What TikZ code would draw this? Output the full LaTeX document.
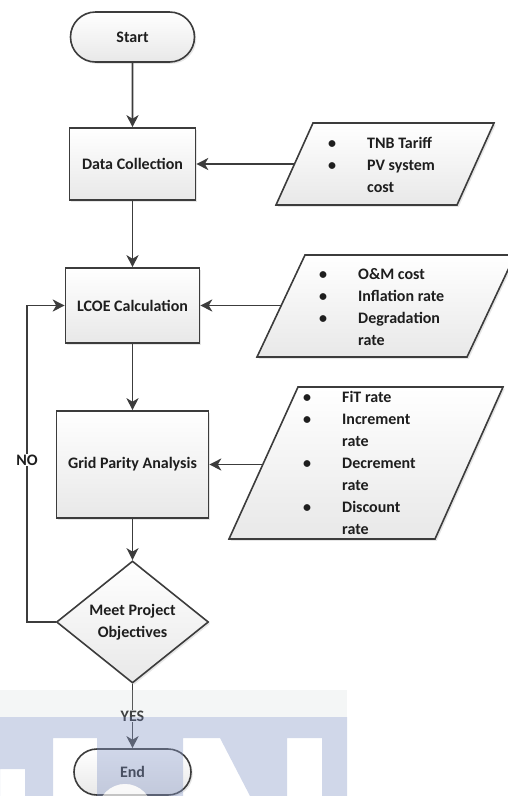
\documentclass[tikz,border=0pt]{standalone}
\usepackage{fontspec}
\setmainfont{Carlito}
\usetikzlibrary{shapes.geometric,shapes.misc,shadows,arrows.meta}
\definecolor{ln}{HTML}{3C3C3C}
\definecolor{tx}{HTML}{1E1E1E}
\definecolor{lav}{HTML}{8A9BC9}
\definecolor{band}{HTML}{C8D2D2}
\tikzset{
  shapefill/.style={top color=white, bottom color=black!9,
    drop shadow={shadow xshift=1.8pt, shadow yshift=-1.8pt, opacity=0.2}},
  txt/.style={text=tx, font=\fontsize{16}{22}\selectfont\bfseries},
  box/.style={rectangle, draw=ln, line width=1.6pt, shapefill, inner sep=0pt, align=center, txt},
  term/.style={box, rounded rectangle},
  dia/.style={box, diamond, minimum width=152pt, minimum height=122pt},
  par/.style={draw=ln, line width=1.6pt, shapefill},
  list/.style={txt, inner sep=0pt},
  arr/.style={draw=ln, line width=1.6pt, -{Stealth[length=12pt,width=12pt,inset=3.5pt]}},
  lbl/.style={txt, fill=white, inner sep=1pt}
}
\begin{document}
\begin{tikzpicture}[x=1pt,y=-1pt]
\useasboundingbox (0,0) rectangle (507,796);

% main chain
\node[term, minimum width=124pt, minimum height=50pt] (start) at (132.5,37) {Start};
\node[box, minimum width=126pt, minimum height=72pt] (dc) at (132.5,164) {Data Collection};
\node[box, minimum width=134pt, minimum height=75pt] (lcoe) at (132.5,305.5) {LCOE Calculation};
\node[box, minimum width=152pt, minimum height=107pt] (gpa) at (132.5,464.5) {Grid Parity Analysis};
\node[dia] (mpo) at (132.5,622) {Meet Project\\Objectives};
\node[term, minimum width=117pt, minimum height=46pt] (end) at (132.5,772) {End};

% input parallelograms
\path[par] (313,123) -- (494,123) -- (457,205) -- (276,205) -- cycle;
\coordinate (in1) at (294.5,164);
\node[list, anchor=base west] (t1) at (328,148.5)
  {\begin{tabular}[t]{@{}p{39pt}@{}l@{}} • & TNB Tariff\\ • & PV system\\ & cost\end{tabular}};

\path[par] (305,255) -- (515,255) -- (467,357) -- (257,357) -- cycle;
\coordinate (in2) at (281.2,305.5);
\node[list, anchor=base west] (t2) at (319,279.5)
  {\begin{tabular}[t]{@{}p{39pt}@{}l@{}} • & O\&M cost\\ • & Inflation rate\\ • & Degradation\\ & rate\end{tabular}};

\path[par] (298,387) -- (503,387) -- (435,539) -- (229,539) -- cycle;
\coordinate (in3) at (262.6,464.5);
\node[list, anchor=base west] (t3) at (303,402.5)
  {\begin{tabular}[t]{@{}p{39pt}@{}l@{}} • & FiT rate\\ • & Increment\\ & rate\\ • & Decrement\\ & rate\\ • & Discount\\ & rate\end{tabular}};

% connectors
\draw[arr] (start) -- (dc);
\draw[arr] (dc) -- (lcoe);
\draw[arr] (lcoe) -- (gpa);
\draw[arr] (gpa) -- (mpo);
\draw[arr] (in1) -- (dc.east);
\draw[arr] (in2) -- (lcoe.east);
\draw[arr] (in3) -- (gpa.east);
\coordinate (nl) at (27,622);
\coordinate (nu) at (27,305.5);
\draw[arr] (mpo.west) -- (nl) -- node[lbl, pos=0.512] (no) {NO} (nu) -- (lcoe.west);
\draw[arr] (mpo.south) -- node[lbl] (yes) {YES} (end.north);

% watermark
\fill[band, opacity=0.2] (0,690) rectangle (347,717);
\fill[lav, opacity=0.4, even odd rule] (0,717) rectangle (347,796)
  (0,769) rectangle (25,796)
  (53,738) rectangle (97,796)
  (125,811) circle[radius=27]
  (183,738) -- (220,738) -- (250,796) -- (183,796) -- cycle
  (287,738) rectangle (322,796);
\fill[white, opacity=0.7] (125,811) circle[radius=27];
\end{tikzpicture}
\end{document}
